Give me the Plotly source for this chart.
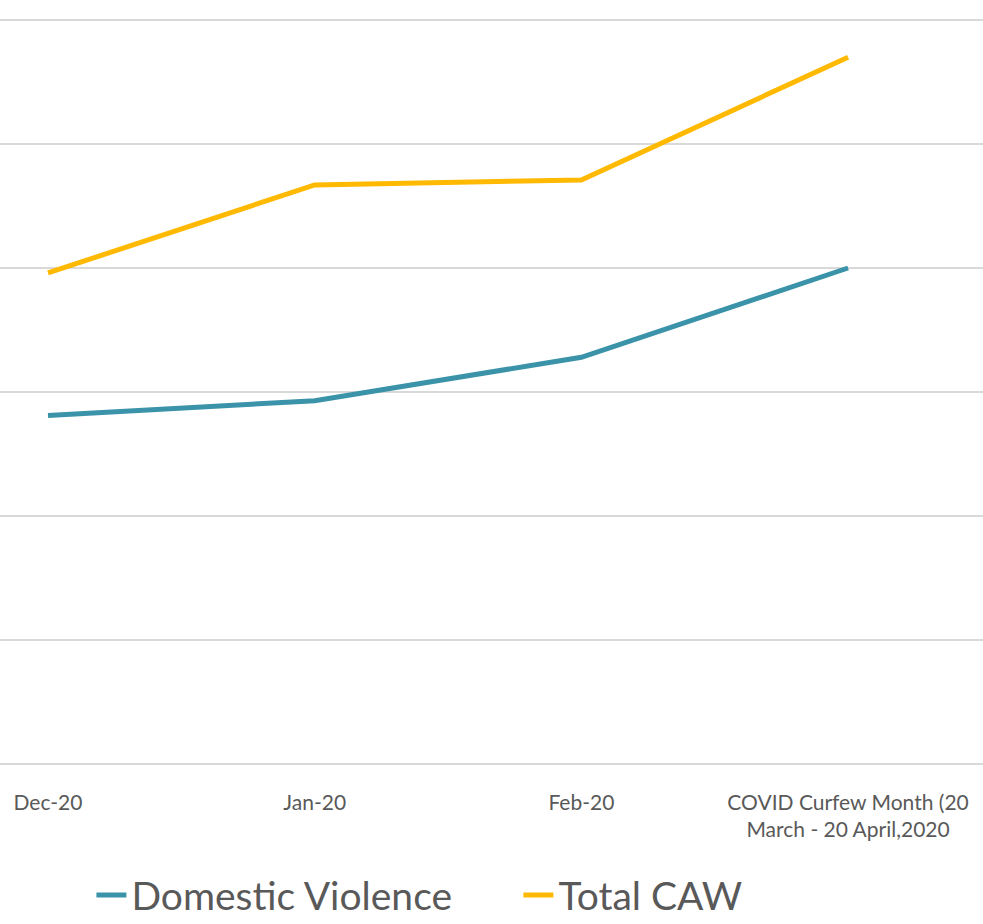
import plotly.graph_objects as go

categories = ["Dec-20", "Jan-20", "Feb-20", "COVID Curfew Month (20<br>March - 20 April,2020"]
domestic_violence = [28.1, 29.3, 32.8, 40.0]
total_caw = [39.6, 46.7, 47.1, 57.0]

TEXT = "#595959"
FONT = "Lato, 'Gill Sans', sans-serif"

fig = go.Figure()
fig.add_trace(go.Scatter(x=categories, y=domestic_violence, mode="lines",
                         name="Domestic Violence",
                         line=dict(color="#3A93A8", width=5)))
fig.add_trace(go.Scatter(x=categories, y=total_caw, mode="lines",
                         name="Total CAW",
                         line=dict(color="#FFB900", width=5)))

fig.update_layout(
    width=983, height=924,
    margin=dict(l=0, r=0, t=10, b=160, autoexpand=False),
    paper_bgcolor="white", plot_bgcolor="white",
    font=dict(family=FONT, color=TEXT, size=21),
    showlegend=True,
    legend=dict(orientation="h", x=0.093, xanchor="left", y=-0.174, yanchor="middle",
                font=dict(size=39, color=TEXT, family=FONT),
                entrywidth=382, entrywidthmode="pixels",
                bgcolor="rgba(0,0,0,0)"),
)
fig.update_xaxes(type="category", range=[-0.18, 3.506], showgrid=False,
                 showline=False, zeroline=False, ticks="",
                 ticklabelstandoff=24,
                 tickfont=dict(size=21, color=TEXT, family=FONT))
fig.update_yaxes(range=[0, 60.806], dtick=10, showgrid=True, gridcolor="#D9D9D9",
                 gridwidth=1.5, zeroline=True, zerolinecolor="#D9D9D9",
                 zerolinewidth=1.5, showticklabels=False, showline=False)

fig.write_html("out.html", config={"displayModeBar": False},
               post_script="document.body.style.margin='0';document.body.style.overflow='hidden';")
